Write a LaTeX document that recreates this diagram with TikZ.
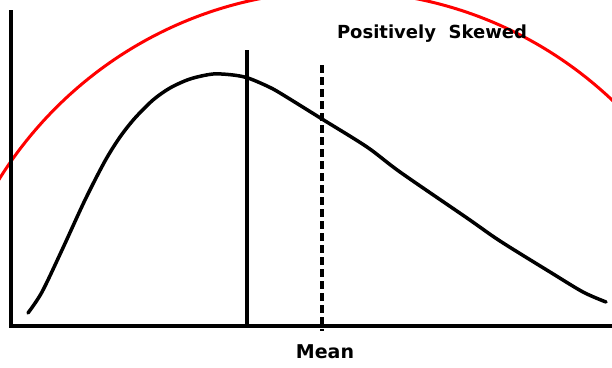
\documentclass[tikz,border=0pt]{standalone}
\usepackage{fontspec}
\setmainfont{DejaVu Sans}
\begin{document}
\begin{tikzpicture}[x=1pt,y=-1pt,
  axis/.style={line width=3.5pt},
  curve/.style={line width=3.5pt,line cap=round,line join=round},
  lbl/.style={font=\fontsize{19}{21}\selectfont\bfseries,inner sep=0pt}]
\useasboundingbox (0,0) rectangle (612,367);
\begin{scope}
\clip (0,0) rectangle (612,367);
\draw[red,line width=3pt] (338,390) circle[radius=399];
\end{scope}
\draw[axis] (11,10) -- (11,327.5);
\draw[axis] (9.5,326) -- (612,326);
\draw[line width=3.2pt] (247,50) -- (247,326);
\draw[line width=3.2pt,dash pattern=on 8pt off 4pt] (322,65) -- (322,331);
\draw[curve] plot[smooth,tension=0.5] coordinates {(28,313) (42,292) (62,250) (85,200) (105,161) (120,137) (135,118) (153,100) (170,88) (190,79) (213,74) (233,75) (248,78) (267,86) (280,93) (322,119) (367,147) (400,172) (467,218) (500,241) (550,272) (583,292) (606,302)};
\node[lbl,font=\fontsize{18}{20}\selectfont\bfseries] (title) at (432,34) {Positively\ \ Skewed};
\node[lbl] (mean) at (325,352) {Mean};
\end{tikzpicture}
\end{document}
